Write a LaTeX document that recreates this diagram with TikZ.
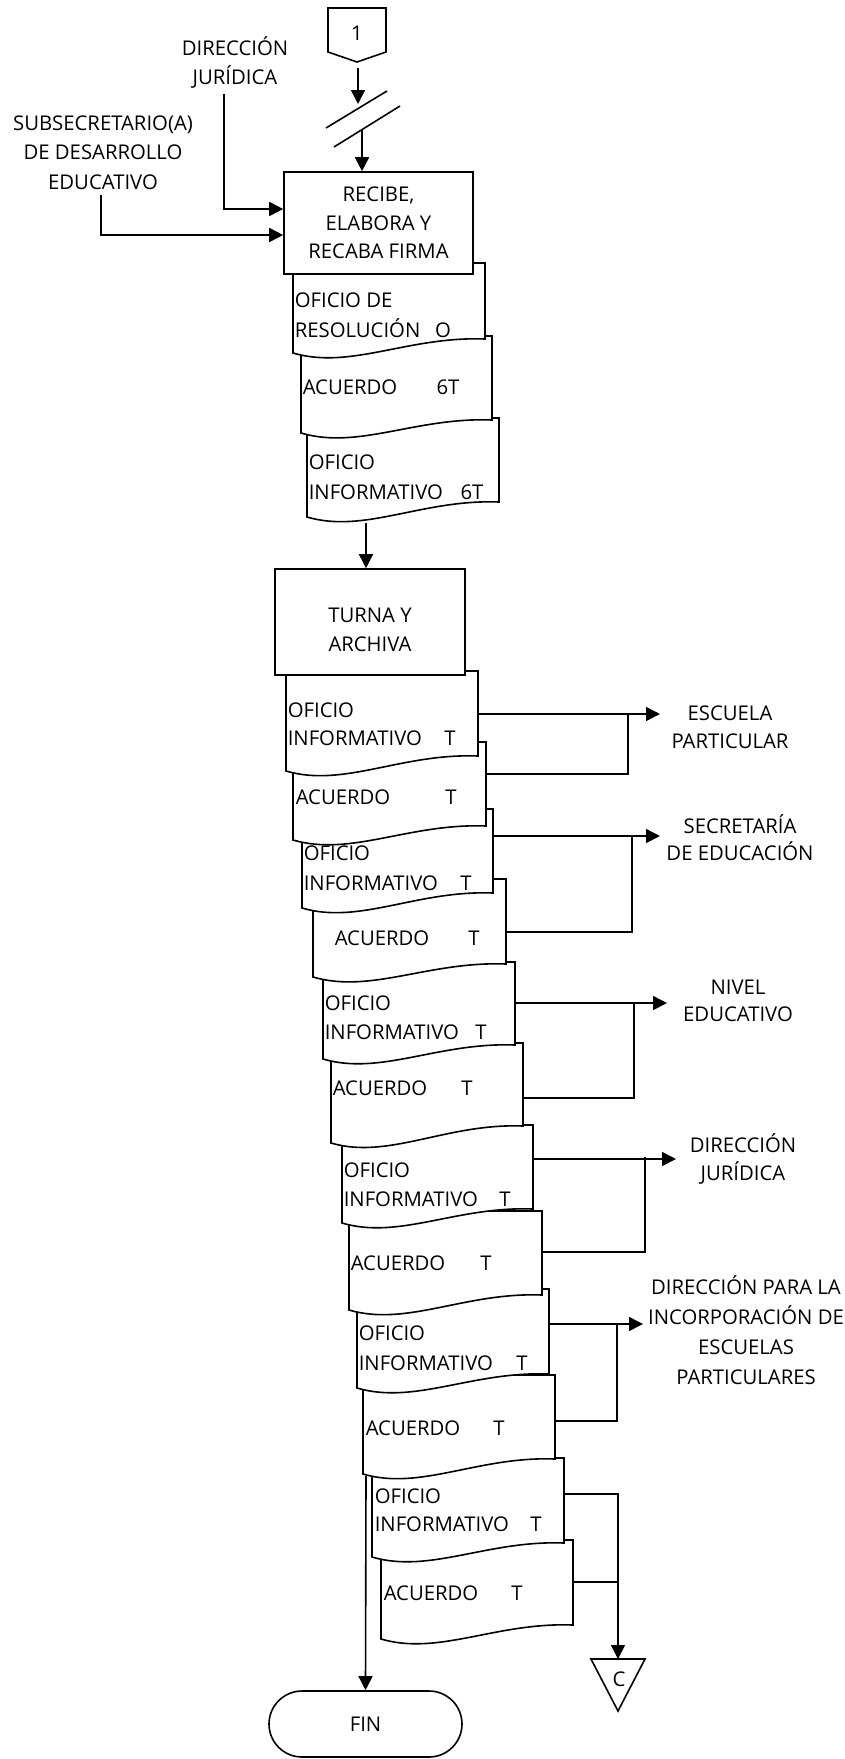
\documentclass[tikz,border=0pt]{standalone}
\usepackage{fontspec}
\setmainfont{Open Sans}
\usetikzlibrary{arrows.meta,shapes.misc}
\newcommand\docshape[5]{%
  \pgfmathsetmacro\dcW{#2-#1}%
  \pgfmathsetmacro\dcXa{#1+0.3*\dcW}%
  \pgfmathsetmacro\dcXb{#1+0.6*\dcW}%
  \pgfmathsetmacro\dcYa{#5+17}%
  \pgfmathsetmacro\dcYb{#4-3}%
  \filldraw[docst] (#1,#3) -- (#2,#3) -- (#2,#4) .. controls (\dcXb,\dcYb) and (\dcXa,\dcYa) .. (#1,#5) -- cycle;}
\newcommand\fsk[1]{\fontsize{20.3}{#1}\selectfont}
\begin{document}
\begin{tikzpicture}[x=1pt,y=-1pt,line width=1.6pt,
  arr/.style={-{Triangle[length=14pt,width=14pt]}},
  docst/.style={fill=white,draw=black,line join=miter},
  txt/.style={inner sep=0pt,font=\fsk{29}},
  dtl/.style={txt,anchor=base west},
  dtc/.style={txt,anchor=base},
  lbl/.style={txt,anchor=base,align=center},
  box/.style={draw,fill=white,inner sep=0pt,align=center,font=\fsk{28.5}}]
\useasboundingbox (0,0) rectangle (844,1759);

% ---------- top connector 1 ----------
\draw[line join=miter] (328,8) -- (386,8) -- (386,52) -- (357,62) -- (328,52) -- cycle;
\node[txt] (one) at (357,33) {1};
\coordinate (c1b) at (358,68);
\coordinate (brkA) at (358,104);
\draw[arr] (c1b) -- (brkA);
\draw (326,128) -- (387,91);
\draw (334,147) -- (400,106);
\coordinate (brkB) at (362,130);

% ---------- left labels ----------
\node[lbl,font=\fsk{29}] (djur) at (235,84) {DIRECCIÓN\\JURÍDICA};
\node[lbl,font=\fsk{29.5}] (subs) at (103,189) {SUBSECRETARIO(A)\\DE DESARROLLO\\EDUCATIVO};
\coordinate (dj0) at (224,94);
\coordinate (sb0) at (101,195);

% ---------- first document stack ----------
\docshape{307}{499}{418}{502}{517}
\node[dtl] (d3a) at (308,469) {OFICIO};
\node[dtl] (d3b) at (308,499) {INFORMATIVO};
\node[dtc] (d3c) at (472,499) {6T};
\docshape{301}{492}{336}{420}{433}
\node[dtl] (d2a) at (302,394) {ACUERDO};
\node[dtc] (d2c) at (448,394) {6T};
\docshape{293}{485}{263}{339}{353}
\node[dtl] (d1a) at (294,307) {OFICIO DE};
\node[dtl] (d1b) at (294,337) {RESOLUCIÓN};
\node[dtc] (d1c) at (443,337) {O};

\node[box,minimum width=189pt,minimum height=102pt] (recibe) at (378.5,223) {RECIBE,\\ELABORA Y\\RECABA FIRMA};
\draw[arr] (brkB) -- (brkB |- recibe.north);
\draw[arr] (dj0) |- (recibe.west |- 0,209);
\draw[arr] (sb0) |- (recibe.west |- 0,235);

% ---------- second document stack (back to front) ----------
\docshape{381}{573}{1540}{1625}{1639}
\node[dtl] (a12a) at (383,1600) {ACUERDO};
\node[dtc] (a12t) at (517,1600) {T};
\docshape{372}{564}{1458}{1543}{1557}
\node[dtl] (a11a) at (374,1503) {OFICIO};
\node[dtl] (a11b) at (374,1531) {INFORMATIVO};
\node[dtc] (a11t) at (536,1531) {T};
\docshape{363}{555}{1375}{1459}{1474}
\node[dtl] (a10a) at (365,1435) {ACUERDO};
\node[dtc] (a10t) at (499,1435) {T};
\docshape{357}{549}{1289}{1374}{1388}
\node[dtl] (a9a) at (358,1340) {OFICIO};
\node[dtl] (a9b) at (358,1370) {INFORMATIVO};
\node[dtc] (a9t) at (522,1370) {T};
\docshape{349}{542}{1211}{1295}{1310}
\node[dtl] (a8a) at (350,1270) {ACUERDO};
\node[dtc] (a8t) at (486,1270) {T};
\docshape{342}{533}{1125}{1209}{1223}
\node[dtl] (a7a) at (343,1177) {OFICIO};
\node[dtl] (a7b) at (343,1206) {INFORMATIVO};
\node[dtc] (a7t) at (505,1206) {T};
\docshape{331}{523}{1043}{1126}{1143}
\node[dtl] (a6a) at (332,1095) {ACUERDO};
\node[dtc] (a6t) at (467,1095) {T};
\docshape{323}{515}{962}{1045}{1059}
\node[dtl] (a5a) at (324,1010) {OFICIO};
\node[dtl] (a5b) at (324,1039) {INFORMATIVO};
\node[dtc] (a5t) at (481,1039) {T};
\docshape{313}{506}{879}{964}{977}
\node[dtl] (a4a) at (334,945) {ACUERDO};
\node[dtc] (a4t) at (474,945) {T};
\docshape{302}{493}{809}{893}{908}
\node[dtl] (a3a) at (303,860) {OFICIO};
\node[dtl] (a3b) at (303,890) {INFORMATIVO};
\node[dtc] (a3t) at (466,890) {T};
\docshape{293}{486}{742}{826}{840}
\node[dtl] (a2a) at (295,804) {ACUERDO};
\node[dtc] (a2t) at (451,804) {T};
\docshape{286}{478}{671}{756}{771}
\node[dtl] (a1a) at (287,717) {OFICIO};
\node[dtl] (a1b) at (287,745) {INFORMATIVO};
\node[dtc] (a1t) at (450,745) {T};

\node[box,minimum width=190pt,minimum height=106pt] (turna) at (370,622) {};
\node[lbl,font=\fsk{29}] (turnat) at (370,651) {TURNA Y\\ARCHIVA};
\coordinate (d3out) at (366,523);
\draw[arr] (d3out) -- (d3out |- turna.north);

% ---------- destination labels ----------
\node[lbl,font=\fsk{28}] (escuela) at (730,748) {ESCUELA\\PARTICULAR};
\node[lbl,font=\fsk{27}] (secre) at (740,860) {SECRETARÍA\\DE EDUCACIÓN};
\node[lbl,font=\fsk{27}] (nivel) at (738,1021) {NIVEL\\EDUCATIVO};
\node[lbl,font=\fsk{28}] (dirjur) at (743,1180) {DIRECCIÓN\\JURÍDICA};
\node[lbl,font=\fsk{30}] (dirinc) at (746,1384) {DIRECCIÓN PARA LA\\INCORPORACIÓN DE\\ESCUELAS\\PARTICULARES};

% ---------- connectors to destinations ----------
\coordinate (a1r) at (478,714);  \coordinate (e1) at (660,714);
\coordinate (a2r) at (486,774);
\draw[arr] (a1r) -- (e1);
\draw (a2r) -| (628,714);
\coordinate (a3r) at (493,836);  \coordinate (e2) at (660,836);
\coordinate (a4r) at (506,932);
\draw[arr] (a3r) -- (e2);
\draw (a4r) -| (632,836);
\coordinate (a5r) at (515,1003); \coordinate (e3) at (667,1003);
\coordinate (a6r) at (523,1098);
\draw[arr] (a5r) -- (e3);
\draw (a6r) -| (634,1003);
\coordinate (a7r) at (533,1159); \coordinate (e4) at (676,1159);
\coordinate (a8r) at (543,1252);
\draw[arr] (a7r) -- (e4);
\draw (a8r) -| (645,1157);
\coordinate (a9r) at (549,1324); \coordinate (e5) at (643,1324);
\coordinate (a10r) at (555,1421);
\draw[arr] (a9r) -- (e5);
\draw (a10r) -| (617,1324);

% ---------- off-page connector C ----------
\draw[line join=miter] (591,1659) -- (645,1659) -- (618,1711) -- cycle;
\node[txt] (cnode) at (619,1679) {C};
\coordinate (ctop) at (618,1659);
\coordinate (a11r) at (564,1494);
\coordinate (a12r) at (573,1582);
\draw[arr] (a11r) -| (ctop);
\draw (a12r) -- (a12r -| ctop);

% ---------- FIN ----------
\node[draw,rounded rectangle,minimum width=193pt,minimum height=66pt,txt] (fin) at (365.5,1724) {FIN};
\coordinate (finsrc) at (366,1476);
\draw[arr] (finsrc) -- (fin.north);
\end{tikzpicture}
\end{document}
